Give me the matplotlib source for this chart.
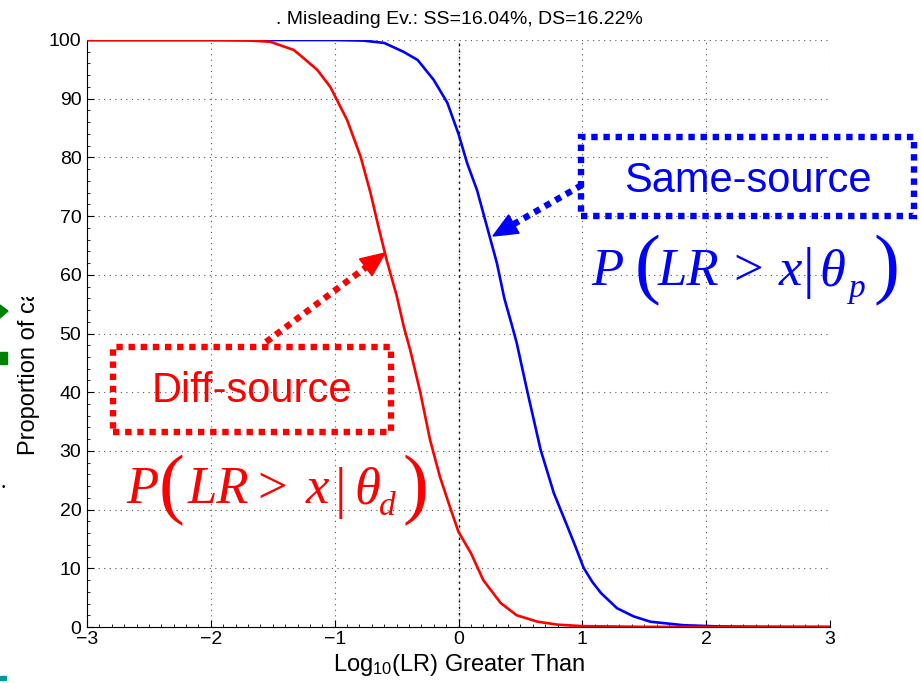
import matplotlib
matplotlib.use("Agg")
import matplotlib.pyplot as plt
from matplotlib.patches import Rectangle, Polygon
from matplotlib.ticker import MultipleLocator
from matplotlib.transforms import Bbox

# ---- data ----
x_ds = [-3, -2.0, -1.68, -1.52, -1.33, -1.25, -1.14, -1.035, -0.90, -0.79, -0.71, -0.65,
        -0.58, -0.5, -0.44, -0.39, -0.31, -0.23, -0.15, -0.07, 0.0, 0.1, 0.2, 0.34,
        0.47, 0.64, 0.8, 1.0, 1.5, 3]
y_ds = [100, 100, 99.9, 99.7, 98.3, 96.9, 94.9, 92.0, 86.4, 80.1, 73.9, 68.5,
        62.5, 56.5, 51.0, 47.2, 40.1, 31.9, 25.6, 20.5, 16.2, 12.6, 8.0, 4.1,
        2.0, 0.9, 0.4, 0.15, 0.02, 0]

x_ss = [-3, -1.0, -0.77, -0.6, -0.445, -0.33, -0.2, -0.09, 0.0, 0.07, 0.15, 0.23,
        0.31, 0.37, 0.43, 0.47, 0.556, 0.663, 0.77, 0.88, 0.95, 1.01, 1.08, 1.15,
        1.28, 1.415, 1.55, 1.82, 2.1, 2.5, 3]
y_ss = [100, 100, 99.9, 99.5, 98.0, 96.6, 93.2, 89.3, 84.0, 79.0, 74.4, 68.2,
        62.0, 56.0, 51.5, 48.4, 40.1, 30.2, 22.8, 17.1, 13.4, 10.1, 7.7, 5.8,
        3.2, 1.8, 0.9, 0.3, 0.1, 0.02, 0]

x_ticks = [-3, -2, -1, 0, 1, 2, 3]
x_ticklabels = ["\u22123", "\u22122", "\u22121", "0", "1", "2", "3"]
y_ticks = [0, 10, 20, 30, 40, 50, 60, 70, 80, 90, 100]

title_text = ". Misleading Ev.: SS=16.04%, DS=16.22%"
xlabel_text = r"Log$_{10}$(LR) Greater Than"
ylabel_text = "Proportion of ca"
ss_label = "Same-source"
ds_label = "Diff-source"

# ---- figure ----
plt.rcParams["font.family"] = ["Liberation Sans", "DejaVu Sans"]
plt.rcParams["mathtext.fontset"] = "custom"
plt.rcParams["mathtext.rm"] = "Liberation Sans"
plt.rcParams["mathtext.it"] = "Liberation Sans:italic"

W, H = 921, 683
fig = plt.figure(figsize=(W / 100, H / 100), dpi=100)
ax = fig.add_axes([87 / W, 1 - 627 / H, (830 - 87) / W, (627 - 40) / H])

BLUE = "#0000ff"
RED = "#ff0000"

ax.plot(x_ss, y_ss, color=BLUE, lw=1.9, zorder=3, solid_joinstyle="round")
ax.plot(x_ds, y_ds, color=RED, lw=1.9, zorder=3, solid_joinstyle="round")

ax.set_xlim(-3, 3)
ax.set_ylim(0, 100)
ax.set_xticks(x_ticks)
ax.set_xticklabels(x_ticklabels)
ax.set_yticks(y_ticks)
ax.xaxis.set_minor_locator(MultipleLocator(0.1))
ax.yaxis.set_minor_locator(MultipleLocator(2))
ax.tick_params(which="major", direction="in", length=5, width=0.8, labelsize=14)
ax.tick_params(axis="x", which="major", pad=3)
ax.tick_params(axis="y", which="major", pad=4)
ax.tick_params(which="minor", direction="in", length=2.5, width=0.6)
for s in ["top", "right"]:
    ax.spines[s].set_visible(False)
ax.grid(True, which="major", linestyle=(0, (1, 4)), color="#555555", lw=0.8)
ax.axvline(0, color="black", linestyle=(0, (1.5, 3)), lw=1.0, zorder=2)

# title and axis labels in pixel positions
def fx(px):
    return px / W

def fy(py):
    return 1 - py / H

fig.text(fx(459), fy(24), title_text, fontsize=14, ha="center", va="baseline")
fig.text(fx(459), fy(671), xlabel_text, fontsize=17, ha="center", va="baseline")
yl = fig.text(fx(29), fy(455), ylabel_text, rotation=90, fontsize=17,
              ha="center", va="bottom")
yl.set_clip_box(Bbox.from_extents(0, 0, W, H - 297))
yl.set_clip_on(True)

# ---- annotation boxes ----
def px2data(px, py):
    return (-3 + (px - 87) / (743 / 6), (627 - py) / 5.87)

DOT = (0, (1.0, 0.9))
LW = 4.6

def dotted_box(x0, y0, x1, y1, color):
    (dx0, dy0) = px2data(x0, y1)
    (dx1, dy1) = px2data(x1, y0)
    r = Rectangle((dx0, dy0), dx1 - dx0, dy1 - dy0, fill=False, edgecolor=color,
                  lw=LW, linestyle=DOT, clip_on=False, zorder=4)
    ax.add_patch(r)

dotted_box(581, 137, 914, 216, BLUE)
dotted_box(113, 347, 391, 432, RED)

ax.text(*px2data(748, 181), ss_label, color=BLUE, fontsize=30,
        ha="center", va="center", clip_on=False)
ax.text(*px2data(252, 391), ds_label, color=RED, fontsize=30,
        ha="center", va="center", clip_on=False)

# ---- formulas P(LR > x | theta) built from pieces ----
SERIF = ["Liberation Serif", "DejaVu Serif"]

def piece(px, py, s, color, size, italic=True, va="baseline"):
    fig.text(fx(px), fy(py), s, color=color, fontsize=size, family=SERIF,
             style="italic" if italic else "normal", ha="center", va=va)

def formula(color, base, P, lp, LR, gt, x, bar, th, sub, sub_s, rp, mid):
    piece(P, base, "P", color, 38)
    piece(lp, mid, "(", color, 56, italic=False, va="center")
    piece(LR, base, "LR", color, 38)
    piece(gt, base, ">", color, 38, italic=False)
    piece(x, base, "x", color, 38)
    piece(bar, mid + 2, "|", color, 42, italic=False, va="center")
    piece(th, base, "\u03b8", color, 38)
    piece(sub, base + 12, sub_s, color, 24)
    piece(rp, mid, ")", color, 56, italic=False, va="center")

formula(BLUE, 285, 607, 648, 688, 748, 790, 808, 832, 857, "p", 886, 271)
formula(RED, 503, 142, 172, 218, 272, 317, 340, 367, 387, "d", 415, 491)

# ---- arrows: dotted shaft + filled triangular head ----
def dotted_arrow(tail, tip, color):
    tx, ty = tail
    hx, hy = tip
    dx, dy = hx - tx, hy - ty
    L = (dx * dx + dy * dy) ** 0.5
    ux, uy = dx / L, dy / L
    hl = 24.0
    bx, by = hx - ux * hl, hy - uy * hl
    p0, p1 = px2data(tx, ty), px2data(bx, by)
    ax.plot([p0[0], p1[0]], [p0[1], p1[1]], color=color, lw=LW, linestyle=DOT,
            clip_on=False, zorder=4)
    hw = 10.5
    nx, ny = -uy, ux
    tri = [px2data(hx, hy),
           px2data(bx + nx * hw, by + ny * hw),
           px2data(bx - nx * hw, by - ny * hw)]
    ax.add_patch(Polygon(tri, closed=True, color=color, clip_on=False, zorder=5))

dotted_arrow((582, 185), (493, 236), BLUE)
dotted_arrow((266, 342), (385, 253), RED)

# ---- stray slide fragments at the left edge ----
fig.patches.append(Polygon([[fx(0), fy(305)], [fx(0), fy(318)], [fx(8), fy(311)]],
                           closed=True, transform=fig.transFigure, color="#008000"))
fig.patches.append(Rectangle((0, fy(364)), 7 / W, 12 / H, transform=fig.transFigure,
                             color="#008000"))
fig.patches.append(Rectangle((0, fy(680)), 6 / W, 4 / H, transform=fig.transFigure,
                             color="#009999"))
fig.text(fx(3), fy(487), "\u2022", fontsize=7, ha="center", va="center")

fig.savefig("out.png", dpi=100)
